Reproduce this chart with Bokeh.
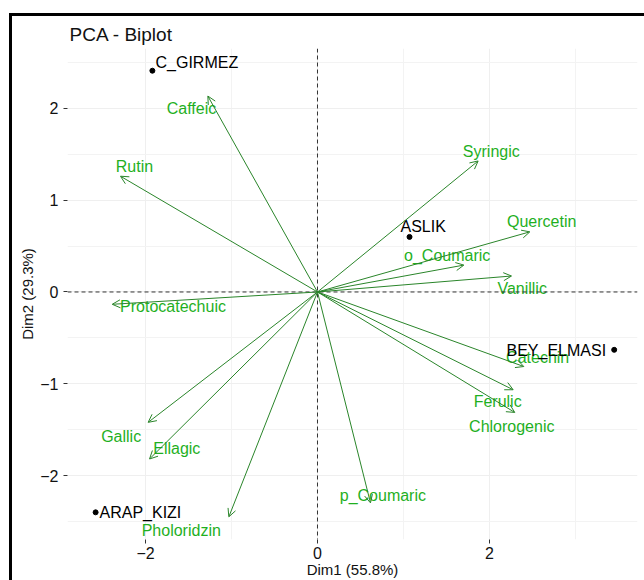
from bokeh.plotting import figure
from bokeh.models import (ColumnDataSource, Range1d, FixedTicker, Arrow, OpenHead, Span)
from bokeh.core.properties import value
from bokeh.embed import file_html
from bokeh.resources import INLINE

# ---------------- data ----------------
title_text = "PCA - Biplot"
x_title = "Dim1 (55.8%)"
y_title = "Dim2 (29.3%)"

ind_names = ["C_GIRMEZ", "ASLIK", "BEY_ELMASI", "ARAP_KIZI"]
ind_x = [-1.92, 1.07, 3.45, -2.58]
ind_y = [2.41, 0.60, -0.63, -2.40]
ind_label_x = [-1.884, 0.965, 2.198, -2.535]
ind_label_y = [2.495, 0.712, -0.636, -2.402]

var_names = ["Caffeic", "Rutin", "Protocatechuic", "Syringic", "Quercetin",
             "o_Coumaric", "Vanillic", "Catechin", "Ferulic", "Chlorogenic",
             "p_Coumaric", "Gallic", "Ellagic", "Pholoridzin"]
var_x = [-1.275, -2.291, -2.387, 1.868, 2.469, 1.702, 2.256, 2.399, 2.275, 2.294,
         0.616, -1.969, -1.953, -1.031]
var_y = [2.134, 1.261, -0.134, 1.427, 0.655, 0.293, 0.174, -0.812, -1.065, -1.312,
         -2.297, -1.420, -1.819, -2.449]
var_label_x = [-1.465, -2.128, -1.680, 2.021, 2.607, 1.508, 2.380, 2.560, 2.095, 2.259,
               0.760, -2.283, -1.636, -1.584]
var_label_y = [2.000, 1.366, -0.156, 1.525, 0.764, 0.402, 0.035, -0.710, -1.192, -1.460,
               -2.217, -1.572, -1.710, -2.594]

x_ticks = [-2, 0, 2]
x_minor = [-3, -1, 1, 3]
y_ticks = [-2, -1, 0, 1, 2]
y_minor = [-2.5, -1.5, -0.5, 0.5, 1.5, 2.5]

FONT = "Liberation Sans"
ARROW_COL = "#2a852a"
VAR_TEXT_COL = "#1fb01f"

# ---------------- figure ----------------
p = figure(width=644, height=580,
           x_range=Range1d(-2.907, 3.721), y_range=Range1d(-2.696, 2.652),
           output_backend="svg", toolbar_location=None,
           min_border_left=67, min_border_right=7, min_border_top=48, min_border_bottom=40)
p.outline_line_color = None
p.background_fill_color = "white"
p.border_fill_color = None
# outer black frame of the picture (left and top edges only)
p.styles = {
    "background": ("linear-gradient(#000, #000) 9px 13px / 3px 100% no-repeat, "
                   "linear-gradient(#000, #000) 9px 13px / 100% 3px no-repeat, #fff"),
}

p.title.text = title_text
p.title.text_font = FONT
p.title.text_font_size = "19px"
p.title.text_font_style = "normal"
p.title.text_color = "#111111"
p.title.align = "left"
p.title.offset = 2
p.title.standoff = 8

for ax in (p.xaxis[0], p.yaxis[0]):
    ax.axis_line_color = None
    ax.major_tick_line_color = "#333333"
    ax.major_tick_out = 4
    ax.major_tick_in = 0
    ax.minor_tick_line_color = None
    ax.major_label_text_font = FONT
    ax.major_label_text_font_size = "16px"
    ax.major_label_text_color = "#111111"
    ax.axis_label_text_font = FONT
    ax.axis_label_text_font_size = "15px"
    ax.axis_label_text_font_style = "normal"
    ax.axis_label_text_color = "#111111"

p.xaxis.ticker = FixedTicker(ticks=x_ticks, minor_ticks=x_minor)
p.yaxis.ticker = FixedTicker(ticks=y_ticks, minor_ticks=y_minor)
p.xaxis.major_label_standoff = 3
p.yaxis.major_label_standoff = 5

p.xaxis.axis_label = x_title
p.xaxis.axis_label_standoff = -1
p.yaxis.axis_label = y_title
p.yaxis.axis_label_standoff = 1

for g in (p.xgrid[0], p.ygrid[0]):
    g.grid_line_color = "#efefef"
    g.grid_line_width = 1
    g.minor_grid_line_color = "#f3f3f3"
    g.minor_grid_line_width = 1
p.xgrid.ticker = p.xaxis.ticker
p.ygrid.ticker = p.yaxis.ticker

# dashed reference lines
p.add_layout(Span(location=0, dimension="height", line_color="#333333",
                  line_dash="4 3", line_width=1))
p.add_layout(Span(location=0, dimension="width", line_color="#333333",
                  line_dash="4 3", line_width=1))

# variable arrows
arrow_src = ColumnDataSource(dict(x0=[0] * len(var_x), y0=[0] * len(var_y),
                                  x1=var_x, y1=var_y))
p.add_layout(Arrow(end=OpenHead(size=8, line_color=ARROW_COL, line_width=1),
                   x_start="x0", y_start="y0", x_end="x1", y_end="y1",
                   source=arrow_src, line_color=ARROW_COL, line_width=1))

p.text(x=var_label_x, y=var_label_y, text=var_names,
       text_font=value(FONT), text_font_size="16px", text_color=VAR_TEXT_COL,
       text_align="center", text_baseline="middle")

# individuals
p.scatter(ind_x, ind_y, size=5, color="black")
p.text(x=ind_label_x, y=ind_label_y, text=ind_names,
       text_font=value(FONT), text_font_size="16px", text_color="black",
       text_align="left", text_baseline="middle")

with open("out.html", "w") as f:
    f.write(file_html(p, INLINE))
